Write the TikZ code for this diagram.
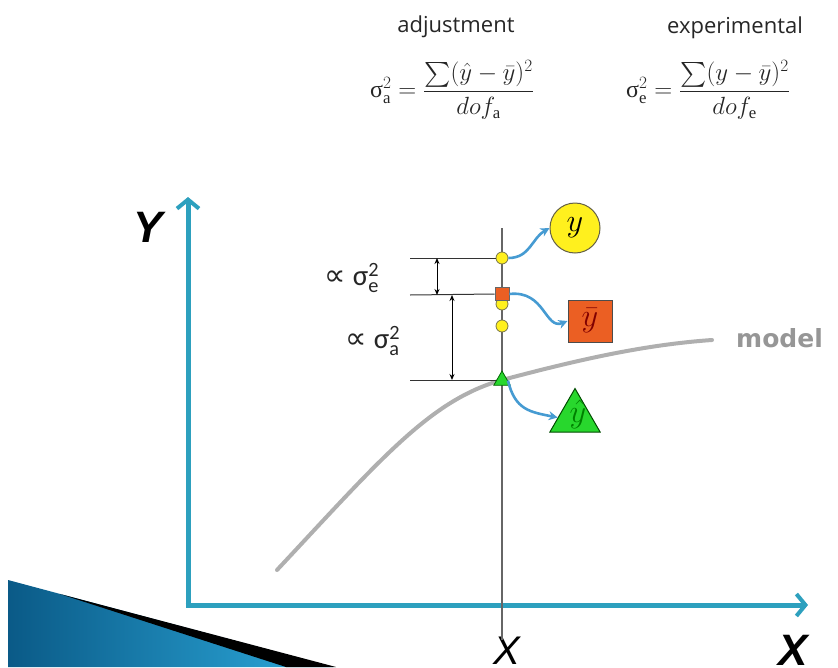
\documentclass[tikz,border=0pt]{standalone}
\usepackage{amsmath}
\usepackage{graphicx}
\usepackage{fontspec}
\setmainfont{Open Sans}
\newfontfamily\dejavu{DejaVu Sans}
\newfontfamily\libsans{Liberation Sans}
\newfontfamily\libserif{Liberation Serif}
\newfontfamily\carlito{Carlito}
\usetikzlibrary{arrows.meta,shapes.geometric}
\definecolor{axisblue}{RGB}{45,160,190}
\definecolor{conblue}{RGB}{70,155,210}
\definecolor{modelgray}{RGB}{175,175,175}
\definecolor{labgray}{RGB}{150,150,150}
\definecolor{myyellow}{RGB}{255,240,30}
\definecolor{myorange}{RGB}{235,95,35}
\definecolor{mygreen}{RGB}{40,215,45}
\definecolor{wedgedark}{RGB}{10,90,135}
\definecolor{wedgelight}{RGB}{45,170,220}
\newcommand{\fs}[1]{\fontsize{#1}{#1}\selectfont}
\newcommand{\markvar}[1]{\scalebox{1.3}{$#1$}}
\tikzset{
  axisline/.style={draw=axisblue, line width=5pt, -{Straight Barb[length=9pt,width=22pt,line width=4pt]}},
  conn/.style={draw=conblue, line width=2.6pt, -{Stealth[length=9pt,width=9pt]}},
  guide/.style={draw=black!80, line width=1pt},
  dimarrow/.style={draw=black, line width=1pt, {Stealth[length=6pt,width=5pt]}-{Stealth[length=6pt,width=5pt]}},
  smallcirc/.style={circle, draw=black!60!yellow, fill=myyellow, line width=0.8pt, minimum size=12pt, inner sep=0pt},
  smallsq/.style={rectangle, draw=black!60, fill=myorange, line width=0.8pt, minimum width=14pt, minimum height=13pt, inner sep=0pt},
  smalltri/.style={regular polygon, regular polygon sides=3, draw=black!60!green, fill=mygreen, line width=0.8pt, minimum size=19pt, inner sep=0pt},
  bigcirc/.style={circle, draw=black!70!yellow, fill=myyellow, line width=1pt, minimum size=50pt, inner sep=0pt, font=\fs{24}},
  bigsq/.style={rectangle, draw=black!70, fill=myorange, line width=1pt, minimum width=44pt, minimum height=42pt, inner sep=0pt, font=\fs{24}},
  bigtri/.style={regular polygon, regular polygon sides=3, draw=black!70!green, fill=mygreen, line width=1pt, minimum size=58pt, inner sep=0pt},
  toplabel/.style={font=\fs{22}, anchor=base, text=black!85},
  formula/.style={font=\fs{24}, text=black!85, inner sep=0pt},
  proplabel/.style={font=\carlito\fs{29}, text=black!85, inner sep=0pt},
}
\begin{document}
\begin{tikzpicture}[x=1pt,y=-1pt]
\useasboundingbox (0,0) rectangle (838,667);
% bottom-left wedge
\shade[left color=wedgedark, right color=wedgelight] (8,580) -- (333,667) -- (8,667) -- cycle;
\fill[black] (60,594) -- (336,667) -- (286,667) -- cycle;
% top labels and formulas
\node[toplabel] (adj) at (456,32) {adjustment};
\node[toplabel] (exp) at (735,33) {experimental};
\node[formula] (fa) at (452,90) {$\text{\libserif σ}^2_{\text{\libserif a}} = \dfrac{\textstyle\sum(\hat{y}-\bar{y})^2}{dof_{\text{\libserif a}}}$};
\node[formula] (fe) at (708,90) {$\text{\libserif σ}^2_{\text{\libserif e}} = \dfrac{\textstyle\sum(y-\bar{y})^2}{dof_{\text{\libserif e}}}$};
% axes
\coordinate (O) at (188,605);
\coordinate (Ytip) at (188,197);
\coordinate (Xtip) at (808,605);
\draw[axisline] (O) -- (Ytip);
\draw[axisline] ([xshift=-2.5pt]O) -- (Xtip);
\node[font=\libsans\bfseries\itshape\fs{44}, inner sep=0pt] (Ylab) at (148,227) {Y};
\node[font=\libsans\bfseries\itshape\fs{44}, inner sep=0pt] (Xlab) at (793,650) {X};
\node[font=\libsans\itshape\fs{40}, inner sep=0pt] (xlab) at (507,651) {X};
% model curve
\draw[modelgray, line width=4pt, line cap=round] (277,570) .. controls (380,460) and (430,400) .. (502,380) .. controls (570,362) and (640,345) .. (712,340);
\node[font=\dejavu\bfseries\fs{25}, text=labgray, anchor=base west, inner sep=0pt] (model) at (736,347) {model};
% vertical guide at x
\coordinate (vtop) at (502,228);
\coordinate (vbot) at (502,640);
\draw[draw=black!60, line width=1.2pt] (vtop) -- (vbot);
% horizontal guides
\coordinate (h1) at (410,258);
\coordinate (h2) at (410,295);
\coordinate (h3) at (410,380);
\node[smallcirc] (ymark) at (502,258) {};
\node[smallcirc] (m2) at (502,304) {};
\node[smallsq] (ybarmark) at (502,294) {};
\node[smallcirc] (m3) at (502,326) {};
\node[smalltri] (yhatmark) at (502,380.5) {};
\coordinate (yhatc) at (502,380);
\draw[guide] (h1) -- (ymark.west);
\draw[guide] (h2) -- (ybarmark.west);
\draw[guide] (h3) -- (yhatmark.west |- yhatc);
% dimension arrows
\coordinate (e1) at (437,258);
\coordinate (e2) at (437,295);
\coordinate (a1) at (452,295);
\coordinate (a2) at (452,380);
\draw[dimarrow] (e1) -- (e2);
\draw[dimarrow] (a1) -- (a2);
\node[proplabel] (pe) at (352,278) {{\dejavu\fs{30}∝} σ$^{\text{2}}_{\text{e}}$};
\node[proplabel] (pa) at (373,341) {{\dejavu\fs{30}∝} σ$^{\text{2}}_{\text{a}}$};
% big markers
\node[bigcirc] (ybig) at (575,228) {\markvar{y}};
\node[bigsq] (ybarbig) at (590,321) {\textcolor{black!50!red}{\markvar{\bar{y}}}};
\node[bigtri] (yhatbig) at (575,417.5) {};
\node[font=\fs{24}, text=black!50!green] (yhatlab) at (578,414) {\markvar{\hat{y}}};
% connectors
\draw[conn] (ymark.east) .. controls (530,258) and (532,238) .. (ybig.west);
\draw[conn] (ybarmark.east) .. controls (545,290) and (545,330) .. (ybarbig.west);
\draw[conn] (yhatmark.east) .. controls (515,410) and (530,412) .. (yhatbig.west);
\end{tikzpicture}
\end{document}
